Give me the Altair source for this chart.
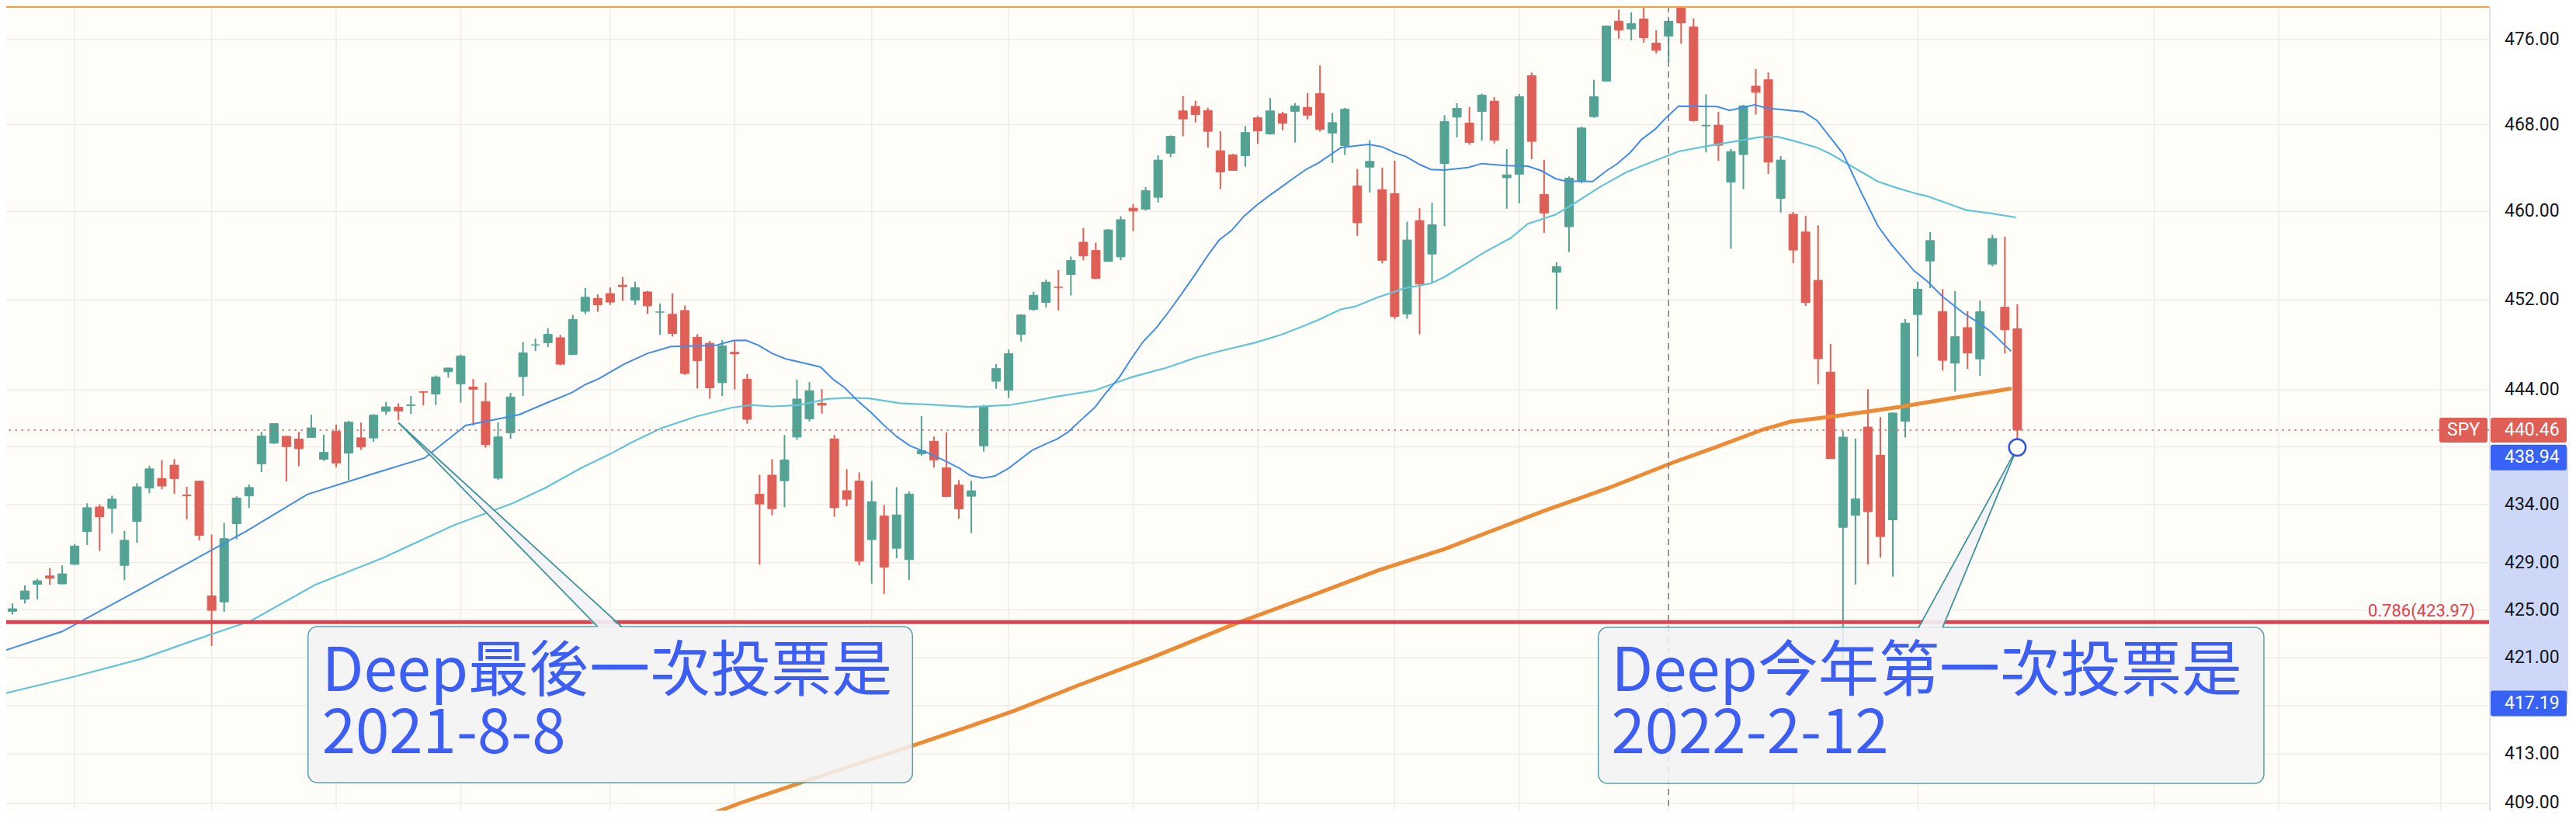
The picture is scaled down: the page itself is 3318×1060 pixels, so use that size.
import altair as alt
import pandas as pd

# ---------------- data (SPY daily) ----------------
month_days = [
    ("2021-06", [24, 25, 28, 29, 30]),
    ("2021-07", [1, 2, 6, 7, 8, 9, 12, 13, 14, 15, 16, 19, 20, 21, 22, 23, 26, 27, 28, 29, 30]),
    ("2021-08", [2, 3, 4, 5, 6, 9, 10, 11, 12, 13, 16, 17, 18, 19, 20, 23, 24, 25, 26, 27, 30, 31]),
    ("2021-09", [1, 2, 3, 7, 8, 9, 10, 13, 14, 15, 16, 17, 20, 21, 22, 23, 24, 27, 28, 29, 30]),
    ("2021-10", [1, 4, 5, 6, 7, 8, 11, 12, 13, 14, 15, 18, 19, 20, 21, 22, 25, 26, 27, 28, 29]),
    ("2021-11", [1, 2, 3, 4, 5, 8, 9, 10, 11, 12, 15, 16, 17, 18, 19, 22, 23, 24, 26, 29, 30]),
    ("2021-12", [1, 2, 3, 6, 7, 8, 9, 10, 13, 14, 15, 16, 17, 20, 21, 22, 23, 27, 28, 29, 30, 31]),
    ("2022-01", [3, 4, 5, 6, 7, 10, 11, 12, 13, 14, 18, 19, 20, 21, 24, 25, 26, 27, 28, 31]),
    ("2022-02", [1, 2, 3, 4, 7, 8, 9, 10, 11]),
]
dates = [f"{m}-{d:02d}" for m, days in month_days for d in days]

opens = [
    424.89, 425.90, 427.17, 427.88, 427.21, 428.87, 431.67, 433.78, 433.66, 428.78,
    432.53, 435.43, 436.24, 437.40, 434.81, 436.01, 426.19, 425.68, 432.34, 434.74,
    437.52, 439.31, 439.91, 439.68, 439.82, 437.91, 440.34, 438.44, 439.78, 439.77,
    442.10, 442.46, 442.61, 443.82, 443.62, 445.59, 444.53, 444.24, 442.96, 436.27,
    440.23, 445.16, 447.97, 448.17, 448.61, 447.12, 450.97, 452.13, 452.56, 453.32,
    451.98, 452.71, 450.89, 450.70, 451.04, 448.64, 448.12, 444.62, 447.32, 444.92,
    434.88, 436.53, 436.05, 439.85, 441.44, 442.81, 439.69, 435.19, 436.02, 430.98,
    433.00, 430.24, 429.27, 438.39, 439.48, 437.16, 435.67, 434.71, 439.08, 444.75,
    443.97, 448.92, 451.13, 451.77, 453.13, 454.28, 457.20, 456.45, 455.46, 455.87,
    460.30, 460.22, 461.30, 465.36, 469.28, 469.70, 469.32, 465.58, 465.21, 465.12,
    468.64, 467.15, 469.00, 469.24, 469.61, 470.89, 467.22, 466.06, 462.34, 464.07,
    462.00, 461.64, 450.73, 459.17, 456.13, 464.41, 468.70, 468.15, 469.23, 470.19,
    463.09, 463.42, 472.57, 461.55, 454.48, 458.61, 462.79, 468.75, 472.06, 477.72,
    476.98, 477.93, 475.64, 476.30, 479.22, 477.16, 467.89, 467.95, 462.70, 465.23,
    471.59, 472.19, 461.19, 459.74, 458.13, 453.75, 445.56, 432.03, 433.06, 440.72,
    438.26, 432.68, 441.24, 450.68, 455.50, 450.95, 446.35, 449.51, 446.73, 455.22,
    451.34, 449.41,
]
highs = [
    425.55, 427.09, 427.65, 428.56, 428.78, 430.60, 434.10, 434.01, 434.76, 431.73,
    435.84, 437.35, 437.84, 437.92, 435.53, 436.06, 431.41, 432.42, 434.70, 435.72,
    440.30, 441.03, 439.94, 440.30, 441.80, 440.06, 440.93, 441.28, 441.12, 441.85,
    442.94, 442.80, 443.44, 443.88, 445.26, 445.94, 447.11, 444.96, 444.63, 441.14,
    443.71, 448.23, 448.54, 449.46, 448.86, 450.65, 453.07, 452.49, 453.11, 454.05,
    453.63, 452.81, 451.67, 452.57, 451.49, 448.92, 448.34, 448.41, 448.36, 445.37,
    436.56, 437.91, 440.03, 444.89, 444.67, 444.05, 440.04, 437.04, 436.77, 436.03,
    433.96, 435.49, 435.12, 441.68, 439.89, 440.26, 436.10, 436.05, 442.66, 446.26,
    447.55, 450.71, 452.73, 453.83, 454.67, 455.90, 458.49, 457.16, 458.40, 459.56,
    460.70, 462.23, 465.15, 467.00, 470.65, 470.23, 469.57, 467.38, 465.29, 467.86,
    468.81, 470.49, 469.19, 470.01, 470.94, 473.54, 469.10, 469.57, 463.90, 466.56,
    464.03, 464.67, 459.07, 460.30, 460.79, 468.88, 470.00, 469.63, 470.90, 470.56,
    465.74, 470.86, 472.87, 464.74, 455.40, 463.21, 467.81, 472.19, 477.31, 478.81,
    478.56, 479.00, 476.86, 477.85, 479.98, 477.98, 470.82, 469.20, 465.74, 469.85,
    473.20, 472.88, 465.09, 459.96, 459.61, 458.74, 448.06, 440.38, 439.72, 444.04,
    441.59, 442.00, 450.28, 453.63, 458.12, 452.97, 452.78, 450.99, 451.92, 457.88,
    457.71, 451.60,
]
lows = [
    424.62, 425.55, 425.89, 427.13, 427.18, 428.80, 430.52, 430.01, 431.51, 427.52,
    430.71, 434.97, 435.31, 434.91, 432.72, 430.92, 421.97, 424.83, 431.01, 433.69,
    436.79, 439.26, 435.99, 437.31, 439.81, 437.77, 437.21, 436.10, 438.73, 439.42,
    441.80, 441.31, 441.88, 442.62, 442.66, 445.07, 442.87, 440.85, 438.92, 436.12,
    439.71, 443.44, 447.42, 447.77, 446.16, 447.06, 450.71, 450.92, 451.55, 451.91,
    451.55, 450.74, 448.86, 448.72, 445.31, 444.11, 443.22, 443.44, 444.02, 441.02,
    428.86, 433.07, 433.75, 439.60, 441.21, 441.90, 432.94, 433.85, 428.78, 427.23,
    426.36, 429.39, 427.54, 438.20, 437.19, 434.62, 432.78, 431.54, 438.58, 444.09,
    443.27, 448.27, 451.01, 451.31, 451.05, 452.39, 455.56, 453.86, 455.45, 455.56,
    458.20, 460.08, 460.83, 464.99, 466.92, 468.20, 465.88, 462.04, 463.75, 464.11,
    466.23, 467.07, 467.48, 466.34, 468.50, 467.35, 464.45, 465.19, 457.77, 461.73,
    455.30, 450.29, 450.31, 448.92, 453.56, 458.65, 466.83, 466.14, 466.51, 466.27,
    460.25, 460.74, 464.80, 458.06, 451.14, 456.31, 462.58, 468.64, 472.01, 476.06,
    475.92, 475.67, 474.67, 473.85, 475.58, 468.28, 465.43, 464.65, 456.60, 462.05,
    468.94, 463.44, 459.90, 455.31, 451.46, 444.50, 437.95, 420.76, 427.15, 428.86,
    429.45, 427.82, 439.81, 446.94, 453.05, 445.71, 443.83, 445.85, 445.22, 455.01,
    447.20, 438.94,
]
closes = [
    425.10, 426.61, 427.47, 427.70, 428.06, 430.43, 433.72, 432.93, 434.46, 430.92,
    435.52, 437.08, 435.59, 436.24, 434.75, 431.34, 424.97, 431.06, 434.55, 435.46,
    439.94, 441.02, 439.01, 438.83, 440.65, 438.51, 437.59, 441.15, 438.98, 441.76,
    442.49, 442.13, 442.68, 443.78, 445.11, 445.92, 446.97, 444.04, 439.18, 439.86,
    443.36, 447.26, 447.97, 448.91, 446.26, 450.25, 452.23, 451.56, 451.80, 453.19,
    453.08, 451.46, 450.91, 448.98, 445.44, 446.58, 444.17, 447.88, 447.17, 441.40,
    434.04, 433.63, 437.86, 443.18, 443.91, 442.64, 433.72, 434.45, 429.14, 434.24,
    428.64, 433.10, 434.90, 438.66, 437.86, 434.69, 433.62, 435.18, 442.50, 445.87,
    447.19, 450.64, 452.41, 453.59, 453.12, 455.55, 455.96, 453.94, 458.32, 459.25,
    460.04, 461.90, 464.72, 466.91, 468.53, 468.93, 467.38, 463.62, 463.77, 467.27,
    467.43, 469.28, 468.14, 469.73, 468.89, 467.57, 468.19, 469.44, 458.97, 464.60,
    455.56, 450.50, 457.40, 453.42, 458.79, 468.28, 469.52, 466.35, 470.74, 466.57,
    463.36, 470.60, 466.45, 459.87, 454.98, 463.06, 467.69, 470.60, 477.26, 476.87,
    477.48, 476.16, 474.96, 477.71, 477.55, 468.38, 467.94, 466.09, 465.51, 469.75,
    471.02, 464.53, 464.72, 456.49, 451.75, 446.75, 437.98, 439.84, 434.47, 433.38,
    431.24, 441.95, 449.91, 452.95, 457.35, 446.60, 448.70, 447.26, 450.94, 457.54,
    449.32, 440.46,
]

# moving averages (bar index, price)
ma20_k = [-0.7, 4.0, 9.0, 14.0, 18.7, 23.7, 29.0, 33.1, 36.4, 40.7, 43.0, 44.9, 46.0, 47.1,
          49.1, 51.0, 52.9, 54.3, 56.5, 57.9, 58.9, 59.9, 61.0, 62.1, 63.2, 64.9, 65.9, 66.8,
          67.9, 68.9, 69.9, 71.0, 72.1, 73.5, 74.9, 76.0, 76.9, 77.9, 78.9, 80.0, 81.1, 81.9,
          83.0, 83.9, 84.8, 85.9, 86.9, 87.8, 88.9, 89.9, 90.8, 91.9, 92.9, 93.9, 95.0, 96.0,
          96.9, 97.9, 98.9, 99.9, 101.0, 101.9, 102.9, 103.9, 104.9, 106.7, 108.9, 110.0,
          111.0, 111.9, 113.0, 113.9, 115.0, 116.9, 118.0, 119.9, 121.7, 122.8, 123.9, 124.7,
          126.9, 128.0, 128.8, 129.9, 130.8, 131.9, 132.9, 133.8, 136.9, 137.9, 139.9, 140.9,
          143.8, 144.9, 147.0, 148.4, 149.8, 150.9, 152.7, 153.8, 155.0, 156.7, 157.9, 158.9,
          160.5]
ma20_v = [421.56, 423.19, 426.03, 428.92, 431.65, 434.88, 436.67, 438.02, 440.86, 441.81,
          442.89, 443.73, 444.45, 444.98, 446.25, 447.22, 447.83, 447.87, 447.94, 448.36,
          448.38, 447.94, 447.22, 446.73, 446.45, 446.01, 444.93, 444.21, 443.00, 442.05,
          440.97, 439.90, 439.07, 438.48, 437.77, 437.17, 436.51, 436.28, 436.46, 437.13,
          438.05, 438.70, 439.26, 439.68, 440.31, 441.43, 442.42, 443.70, 445.12, 446.83,
          448.26, 449.55, 451.00, 452.55, 454.33, 456.02, 457.39, 458.27, 459.57, 460.56,
          461.51, 462.24, 463.07, 463.87, 464.47, 465.88, 466.17, 465.94, 465.40, 465.05,
          464.32, 463.86, 463.81, 464.04, 464.40, 464.22, 464.16, 463.73, 463.02, 462.78,
          462.75, 463.73, 464.32, 465.40, 466.60, 467.56, 468.77, 469.73, 469.69, 469.32,
          469.85, 469.54, 469.20, 468.41, 465.32, 461.90, 458.68, 456.98, 454.63, 453.63,
          452.29, 450.79, 449.95, 449.13, 447.41]

ma50_k = [-0.7, 4.9, 10.4, 16.0, 19.1, 24.3, 29.8, 35.4, 40.2, 42.8, 45.7, 48.2, 49.6, 52.1,
          54.9, 57.7, 59.3, 61.0, 63.2, 65.4, 67.1, 68.8, 71.3, 73.7, 76.8, 80.0, 81.9, 83.9,
          86.9, 88.6, 89.9, 92.7, 95.0, 96.9, 99.9, 101.9, 103.9, 104.9, 106.7, 107.8, 109.6,
          111.7, 113.9, 115.0, 116.7, 118.2, 120.3, 121.7, 123.9, 125.3, 127.4, 129.6, 131.7,
          133.8, 136.0, 138.5, 140.3, 141.7, 143.1, 144.9, 146.0, 148.0, 149.8, 151.1, 152.9,
          153.8, 155.7, 156.9, 158.7, 160.9]
ma50_v = [418.00, 419.39, 420.91, 422.97, 424.06, 427.12, 429.44, 432.20, 434.11, 435.44,
          437.17, 438.48, 439.31, 440.62, 441.64, 442.41, 442.65, 442.53, 442.65, 443.19,
          443.29, 443.24, 442.81, 442.69, 442.48, 442.65, 442.99, 443.41, 443.93, 444.61,
          445.12, 445.95, 446.83, 447.40, 448.20, 448.89, 449.75, 450.22, 451.16, 451.39,
          452.20, 453.01, 453.48, 454.06, 455.23, 456.29, 457.57, 458.88, 459.70, 460.65,
          462.19, 463.61, 464.57, 465.52, 466.00, 466.48, 466.84, 466.89, 466.48, 465.88,
          465.29, 463.95, 462.75, 462.24, 461.63, 461.39, 460.61, 460.13, 459.86, 459.46]

ma200_k = [54.2, 58.5, 63.7, 71.0, 76.8, 80.5, 85.7, 91.5, 98.1, 104.0, 109.8, 115.0, 119.4,
           123.0, 128.1, 133.3, 137.0, 140.6, 142.8, 146.5, 151.6, 155.3, 160.4]
ma200_v = [407.40, 409.03, 410.80, 413.25, 415.26, 416.60, 418.73, 421.00, 423.80, 426.09,
           428.40, 430.18, 431.98, 433.45, 435.39, 437.61, 439.06, 440.52, 441.20, 441.70,
           442.49, 443.18, 444.09]

y_ticks = [409, 413, 417, 421, 425, 429, 434, 439, 444, 452, 460, 468, 476]
y_tick_labels = ["409.00", "413.00", "", "421.00", "425.00", "429.00", "434.00", "",
                 "444.00", "452.00", "460.00", "468.00", "476.00"]
grid_k = [5, 16, 26, 36, 48, 58, 69, 80, 90, 100, 111, 121, 133, 143, 153, 172, 182, 195]

fib_level = 423.97
fib_label = "0.786(423.97)"
last_close = 440.46
sel_hi = 438.94
sel_lo = 417.19
crosshair_k = 133

callout_text = ["Deep最後一次投票是\n2021-8-8", "Deep今年第一次投票是\n2022-2-12"]
anchor_k = [31, 161]
anchor_p = [441.1, 438.94]
box_k0 = [23.74, 127.35]
box_k1 = [72.28, 180.80]
box_top = [423.60, 423.53]
box_bot = [410.67, 410.61]
tail_base_k = [[46.99, 48.91], [153.08, 155.00]]
tail_fill_p = [423.46, 423.39]
text_k = [24.86, 128.40]
text_p = [418.22, 418.22]

# ---------------- style ----------------
UP, DOWN = "#53a394", "#df5f57"
GRID = "#efede9"
BLUE, CYAN, ORANGE = "#428ceb", "#62c5d7", "#ec8b33"
FIB = "#df4351"
TXT = "#3d5ef5"
LBL_BLUE = "#3862f5"
PLOT_W, PLOT_H = 3198, 1036

xs = alt.Scale(domain=[-0.1865, 198.57], nice=False, zero=False)
ys = alt.Scale(type="log", domain=[408.40, 479.14], nice=False, zero=False)


def X(f):
    return alt.X(f"{f}:Q", scale=xs, axis=None)


def Y(f):
    return alt.Y(f"{f}:Q", scale=ys, axis=None)


def rrect(w, h, r):
    hh = round(h / w, 4)
    ru = round(r / (w / 2), 4)
    a, b = round(-1 + ru, 4), round(1 - ru, 4)
    return (f"M{a},{-hh} L{b},{-hh} Q1,{-hh} 1,{round(-hh + ru, 4)} L1,{round(hh - ru, 4)} "
            f"Q1,{hh} {b},{hh} L{a},{hh} Q-1,{hh} -1,{round(hh - ru, 4)} L-1,{round(-hh + ru, 4)} "
            f"Q-1,{-hh} {a},{-hh} Z")


candles = pd.DataFrame({"k": list(range(len(dates))), "date": dates, "open": opens,
                        "high": highs, "low": lows, "close": closes})
candles["dir"] = ["up" if c >= o else "down" for o, c in zip(opens, closes)]
dir_scale = alt.Scale(domain=["up", "down"], range=[UP, DOWN])

hgrid = alt.Chart(pd.DataFrame({"p": y_ticks})).mark_rule(color=GRID, strokeWidth=1.5).encode(y=Y("p"))
vgrid = alt.Chart(pd.DataFrame({"k": grid_k})).mark_rule(color=GRID, strokeWidth=1.5).encode(x=X("k"))

wicks = alt.Chart(candles).mark_rule(strokeWidth=2, clip=True).encode(
    x=X("k"), y=Y("low"), y2="high", color=alt.Color("dir:N", scale=dir_scale, legend=None))
bodies = alt.Chart(candles).mark_bar(size=11, strokeWidth=1, clip=True).encode(
    x=X("k"), y=Y("open"), y2="close",
    color=alt.Color("dir:N", scale=dir_scale, legend=None),
    stroke=alt.Stroke("dir:N", scale=dir_scale, legend=None))

ma200 = alt.Chart(pd.DataFrame({"k": ma200_k, "v": ma200_v})).mark_line(
    color=ORANGE, strokeWidth=5, clip=True, strokeCap="round").encode(x=X("k"), y=Y("v"))
ma50 = alt.Chart(pd.DataFrame({"k": ma50_k, "v": ma50_v})).mark_line(
    color=CYAN, strokeWidth=2.2, clip=True).encode(x=X("k"), y=Y("v"))
ma20 = alt.Chart(pd.DataFrame({"k": ma20_k, "v": ma20_v})).mark_line(
    color=BLUE, strokeWidth=2, clip=True).encode(x=X("k"), y=Y("v"))

fib = alt.Chart(pd.DataFrame({"p": [fib_level]})).mark_rule(color=FIB, strokeWidth=5).encode(y=Y("p"))
priceline = alt.Chart(pd.DataFrame({"p": [last_close]})).mark_rule(
    color=DOWN, strokeWidth=1.5, strokeDash=[2.5, 5.5]).encode(y=Y("p"))
cross = alt.Chart(pd.DataFrame({"k": [crosshair_k]})).mark_rule(
    color="#767a86", strokeWidth=1.5, strokeDash=[8, 6]).encode(x=X("k"))

box_df = pd.DataFrame({"k0": box_k0, "k1": box_k1, "top": box_top, "bot": box_bot})
boxes = alt.Chart(box_df).mark_rect(cornerRadius=12, fill="#f3f2f5", fillOpacity=0.85,
                                    stroke="#55a2a9", strokeWidth=1.5).encode(
    x=X("k0"), x2="k1", y=Y("top"), y2="bot")

poly_rows, seg_rows = [], []
for i in range(2):
    pts = [(anchor_k[i], anchor_p[i]), (tail_base_k[i][0], tail_fill_p[i]), (tail_base_k[i][1], tail_fill_p[i])]
    for s, (kk, pp) in enumerate(pts):
        poly_rows.append({"id": i, "seq": s, "k": kk, "p": pp})
    for j in range(2):
        seg_rows.append({"seg": f"{i}-{j}", "seq": 0, "k": anchor_k[i], "p": anchor_p[i]})
        seg_rows.append({"seg": f"{i}-{j}", "seq": 1, "k": tail_base_k[i][j], "p": box_top[i]})

tail_fill = alt.Chart(pd.DataFrame(poly_rows)).mark_line(
    interpolate="linear-closed", fill="#f3f2f5", fillOpacity=0.9, strokeWidth=0).encode(
    x=X("k"), y=Y("p"), detail="id:N", order="seq:Q")
tail_lines = alt.Chart(pd.DataFrame(seg_rows)).mark_line(color="#3f949b", strokeWidth=1.8).encode(
    x=X("k"), y=Y("p"), detail="seg:N", order="seq:Q")

texts = alt.Chart(pd.DataFrame({"k": text_k, "p": text_p, "t": callout_text})).mark_text(
    align="left", baseline="alphabetic", font="Noto Sans CJK TC", fontSize=78, color=TXT,
    lineBreak="\n", lineHeight=80.5).encode(x=X("k"), y=Y("p"), text="t:N")

circle = alt.Chart(pd.DataFrame({"k": [anchor_k[1]], "p": [anchor_p[1]]})).mark_point(
    shape="circle", size=460, filled=False, fill="#ffffff", fillOpacity=1, stroke="#2e55e6",
    strokeWidth=2.5, opacity=1).encode(x=X("k"), y=Y("p"))

topline = alt.Chart(pd.DataFrame({"a": [0]})).mark_rule(color="#f2a23c", strokeWidth=2).encode(
    y=alt.value(1))

# ---- right price scale (drawn as marks) ----
axis_line = alt.Chart(pd.DataFrame({"a": [0]})).mark_rule(color="#e0e3eb", strokeWidth=2).encode(
    x=alt.value(PLOT_W + 1), y=alt.value(0), y2=alt.value(PLOT_H))
band = alt.Chart(pd.DataFrame({"p0": [sel_hi], "p1": [sel_lo]})).mark_rect(color="#cdd8f8").encode(
    x=alt.value(3200), x2=alt.value(3300), y=Y("p0"), y2="p1")
tick_labels = alt.Chart(pd.DataFrame({"p": y_ticks, "t": y_tick_labels})).mark_text(
    align="left", baseline="middle", font="Roboto", fontSize=23, color="#131722").encode(
    x=alt.value(3218), y=Y("p"), text="t:N")


def label_box(price, cx, w, h, color, yoff=0):
    return alt.Chart(pd.DataFrame({"p": [price]})).mark_point(
        shape=rrect(w, h, 3), size=w * w, filled=True, color=color, opacity=1, yOffset=yoff).encode(
        x=alt.value(cx), y=Y("p"))


box_spy = label_box(last_close, 3165, 62, 32, DOWN)
box_last = label_box(last_close, 3249, 98, 32, DOWN)
box_hi = label_box(sel_hi, 3249, 98, 33, LBL_BLUE, 13)
box_lo = label_box(sel_lo, 3249, 98, 33, LBL_BLUE)

lbl_font = dict(font="Roboto", fontSize=23, color="#ffffff", baseline="middle")
txt_spy = alt.Chart(pd.DataFrame({"p": [last_close], "t": ["SPY"]})).mark_text(align="center", **lbl_font).encode(
    x=alt.value(3165), y=Y("p"), text="t:N")
txt_prices = alt.Chart(pd.DataFrame({"p": [last_close, sel_lo], "t": ["440.46", "417.19"]})).mark_text(
    align="left", **lbl_font).encode(x=alt.value(3218), y=Y("p"), text="t:N")
txt_hi = alt.Chart(pd.DataFrame({"p": [sel_hi], "t": ["438.94"]})).mark_text(
    align="left", dy=13, **lbl_font).encode(x=alt.value(3218), y=Y("p"), text="t:N")
fib_text = alt.Chart(pd.DataFrame({"p": [fib_level], "t": [fib_label]})).mark_text(
    align="right", baseline="alphabetic", dy=-7, font="Roboto", fontSize=22, color=FIB).encode(
    x=alt.value(3180), y=Y("p"), text="t:N")

chart = alt.layer(
    hgrid, vgrid, wicks, bodies, ma200, ma50, ma20, fib, priceline, cross,
    boxes, tail_fill, tail_lines, texts, circle, topline,
    band, axis_line, tick_labels, box_spy, box_last, box_hi, box_lo, txt_spy, txt_prices, txt_hi,
    fib_text,
).properties(
    width=PLOT_W, height=PLOT_H,
    padding={"left": 0, "top": 0, "right": 102, "bottom": 3},
    autosize=alt.AutoSizeParams(type="none"),
    background="#ffffff",
).configure_view(fill="#fffdf8", strokeWidth=0)

chart.save("out.html", embed_options={"renderer": "svg", "actions": False})
